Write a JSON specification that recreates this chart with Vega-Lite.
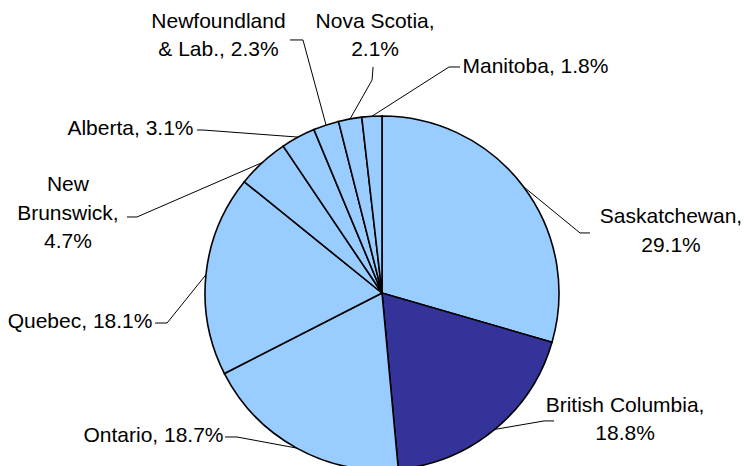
{
  "$schema": "https://vega.github.io/schema/vega-lite/v6.json",
  "width": 744,
  "height": 466,
  "autosize": {"type": "none"},
  "padding": 0,
  "background": "white",
  "config": {"view": {"stroke": null}},
  "data": {
    "values": [
      {"name": "Saskatchewan", "value": 29.1, "label": ["Saskatchewan,", "29.1%"]},
      {"name": "British Columbia", "value": 18.8, "label": ["British Columbia,", "18.8%"]},
      {"name": "Ontario", "value": 18.7, "label": ["Ontario, 18.7%"]},
      {"name": "Quebec", "value": 18.1, "label": ["Quebec, 18.1%"]},
      {"name": "New Brunswick", "value": 4.7, "label": ["New", "Brunswick,", "4.7%"]},
      {"name": "Alberta", "value": 3.1, "label": ["Alberta, 3.1%"]},
      {"name": "Newfoundland & Lab.", "value": 2.3, "label": ["Newfoundland", "& Lab., 2.3%"]},
      {"name": "Nova Scotia", "value": 2.1, "label": ["Nova Scotia,", "2.1%"]},
      {"name": "Manitoba", "value": 1.8, "label": ["Manitoba, 1.8%"]}
    ]
  },
  "transform": [
    {"joinaggregate": [{"op": "sum", "field": "value", "as": "total"}]},
    {"window": [{"op": "sum", "field": "value", "as": "cum"}], "frame": [null, 0]},
    {"calculate": "2*PI*(datum.cum - datum.value/2)/datum.total", "as": "a"},
    {"calculate": "177*sin(datum.a)", "as": "ex"},
    {"calculate": "177*cos(datum.a)", "as": "ey"},
    {"calculate": "datum.ex + ({'Saskatchewan':56.5,'British Columbia':49.3,'Ontario':-59.7,'Quebec':-38.9,'New Brunswick':-125.5,'Alberta':-95.2,'Newfoundland & Lab.':-23.1,'Nova Scotia':22,'Manitoba':77.1})[datum.name]", "as": "bx"},
    {"calculate": "datum.ey + ({'Saskatchewan':-46.3,'British Columbia':8.5,'Ontario':11.1,'Quebec':-48.3,'New Brunswick':-54.5,'Alberta':7.1,'Newfoundland & Lab.':85.1,'Nova Scotia':38.9,'Manitoba':49.3})[datum.name]", "as": "by"},
    {"calculate": "datum.bx + ({'Saskatchewan':10,'British Columbia':10,'Ontario':-12,'Quebec':-12,'New Brunswick':-10,'Alberta':-6,'Newfoundland & Lab.':-13,'Nova Scotia':1,'Manitoba':11})[datum.name]", "as": "hx"},
    {"calculate": "datum.by + ({'Saskatchewan':0,'British Columbia':0,'Ontario':0,'Quebec':0,'New Brunswick':0,'Alberta':0,'Newfoundland & Lab.':0,'Nova Scotia':13,'Manitoba':0})[datum.name]", "as": "hy"},
    {"calculate": "datum.hx + ({'Saskatchewan':81,'British Columbia':71,'Ontario':-71.5,'Quebec':-75,'New Brunswick':-59,'Alberta':-66.5,'Newfoundland & Lab.':-71.5,'Nova Scotia':2,'Manitoba':75.5})[datum.name]", "as": "tx"},
    {"calculate": "datum.hy + ({'Saskatchewan':1.5,'British Columbia':1,'Ontario':1,'Quebec':1,'New Brunswick':3,'Alberta':1,'Newfoundland & Lab.':4,'Nova Scotia':31,'Manitoba':0})[datum.name] + (length(datum.label)-1)*14.25", "as": "ty"}
  ],
  "layer": [
    {
      "mark": {"type": "arc", "outerRadius": 177, "stroke": "#000000", "strokeWidth": 1.6},
      "encoding": {
        "theta": {"field": "value", "type": "quantitative", "stack": true},
        "x": {"datum": 0, "type": "quantitative", "scale": {"domain": [-382, 362], "nice": false, "zero": false}, "axis": null},
        "y": {"datum": 0, "type": "quantitative", "scale": {"domain": [-173, 293], "nice": false, "zero": false}, "axis": null},
        "fill": {"condition": {"test": "datum.name === 'British Columbia'", "value": "#333399"}, "value": "#99CCFF"}
      }
    },
    {
      "mark": {"type": "rule", "stroke": "#000000", "strokeWidth": 1},
      "encoding": {
        "x": {"field": "ex", "type": "quantitative", "scale": {"domain": [-382, 362], "nice": false, "zero": false}, "axis": null},
        "y": {"field": "ey", "type": "quantitative", "scale": {"domain": [-173, 293], "nice": false, "zero": false}, "axis": null},
        "x2": {"field": "bx"},
        "y2": {"field": "by"}
      }
    },
    {
      "mark": {"type": "rule", "stroke": "#000000", "strokeWidth": 1},
      "encoding": {
        "x": {"field": "bx", "type": "quantitative", "scale": {"domain": [-382, 362], "nice": false, "zero": false}, "axis": null},
        "y": {"field": "by", "type": "quantitative", "scale": {"domain": [-173, 293], "nice": false, "zero": false}, "axis": null},
        "x2": {"field": "hx"},
        "y2": {"field": "hy"}
      }
    },
    {
      "mark": {"type": "text", "font": "Liberation Sans", "fontSize": 21, "align": "center", "baseline": "middle", "lineHeight": 28.5, "color": "#000000"},
      "encoding": {
        "x": {"field": "tx", "type": "quantitative", "scale": {"domain": [-382, 362], "nice": false, "zero": false}, "axis": null},
        "y": {"field": "ty", "type": "quantitative", "scale": {"domain": [-173, 293], "nice": false, "zero": false}, "axis": null},
        "text": {"field": "label", "type": "nominal"}
      }
    }
  ]
}
